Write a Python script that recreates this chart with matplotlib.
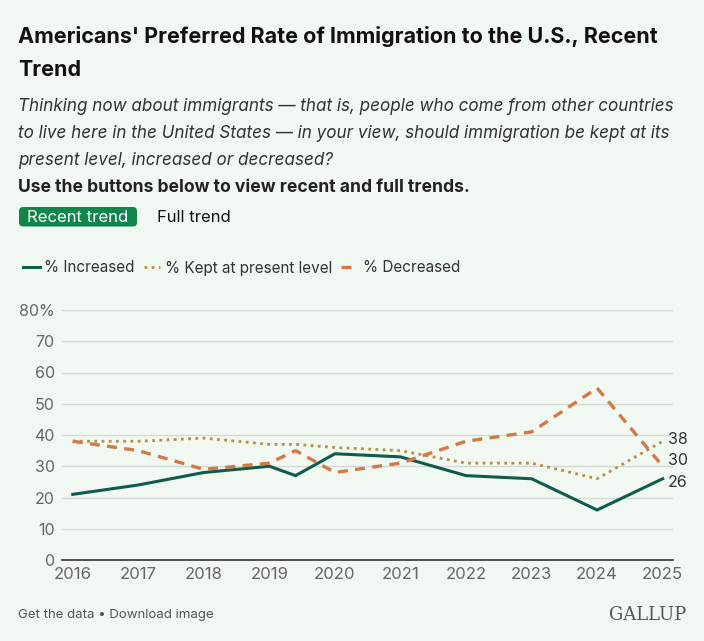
import matplotlib
matplotlib.use('Agg')
import matplotlib.pyplot as plt
from matplotlib.patches import FancyBboxPatch

# survey points (the extra one sits between the 2019 and 2020 polls)
years = [2016, 2017, 2018, 2019, 2019.4, 2020, 2021, 2022, 2023, 2024, 2025]
increased = [21, 24, 28, 30, 27, 34, 33, 27, 26, 16, 26]
kept = [38, 38, 39, 37, 37, 36, 35, 31, 31, 26, 38]
decreased = [38, 35, 29, 31, 35, 28, 31, 38, 41, 55, 30]

year_ticks = list(range(2016, 2026))
y_ticks = [0, 10, 20, 30, 40, 50, 60, 70, 80]
y_labels = ['0', '10', '20', '30', '40', '50', '60', '70', '80%']

BG = '#f1f7f1'
C_INC = '#0f5c4c'
C_KEPT = '#b3904b'
C_DEC = '#d07a45'
W, H = 704, 641

plt.rcParams['font.family'] = ['Inter', 'DejaVu Sans']


def px(x, y):
    """pixel coords (top-left origin) -> figure fraction"""
    return x / W, 1 - y / H


fig = plt.figure(figsize=(W / 100, H / 100), dpi=100, facecolor=BG)
ax = fig.add_axes([61.7 / W, 81 / H, (672.7 - 61.7) / W, 250 / H])
ax.set_facecolor(BG)

ax.plot(years, increased, color=C_INC, lw=2.2, solid_joinstyle='miter', label='% Increased')
ax.plot(years, kept, color=C_KEPT, lw=2, linestyle=(0, (1, 1.6)), label='% Kept at present level')
ax.plot(years, decreased, color=C_DEC, lw=2.4, linestyle=(0, (3, 2.2)), label='% Decreased')

ax.set_xlim(2016 - 0.168, 2025 + 0.153)
ax.set_ylim(0, 80)
ax.set_xticks(year_ticks)
ax.set_xticklabels([str(y) for y in year_ticks])
ax.set_yticks(y_ticks)
ax.set_yticklabels(y_labels)
ax.tick_params(axis='x', length=0, labelsize=12, labelcolor='#666666', pad=5)
ax.tick_params(axis='y', length=0, labelsize=11.5, labelcolor='#666666', pad=5)
ax.grid(axis='y', color='#d3dbd4', lw=1)
ax.set_axisbelow(True)
for s in ['top', 'right', 'left']:
    ax.spines[s].set_visible(False)
ax.spines['bottom'].set_color('#333333')
ax.spines['bottom'].set_linewidth(1.2)
ax.spines['bottom'].set_zorder(5)

# end labels, nudged apart
end_offsets = [(-2.5, increased[-1]), (1, kept[-1]), (4, decreased[-1])]
for dy, val in end_offsets:
    ax.annotate(str(val), xy=(years[-1], val), xytext=(4, dy), textcoords='offset points',
                ha='left', va='center', fontsize=11.5, color='#333333', annotation_clip=False)

# header
fig.text(*px(18, 43), "Americans' Preferred Rate of Immigration to the U.S., Recent",
         fontsize=15.5, fontweight='bold', color='#111111', va='baseline')
fig.text(*px(18, 76), "Trend", fontsize=15.5, fontweight='bold', color='#111111', va='baseline')
sub = ["Thinking now about immigrants \u2014 that is, people who come from other countries",
       "to live here in the United States \u2014 in your view, should immigration be kept at its",
       "present level, increased or decreased?"]
for i, line in enumerate(sub):
    fig.text(*px(18, 111 + i * 27), line, fontsize=12.3, style='italic', color='#333333',
             va='baseline')
fig.text(*px(18, 192), "Use the buttons below to view recent and full trends.",
         fontsize=12.6, fontweight='bold', color='#222222', va='baseline')

# buttons
bx, by = px(19, 226.5)
btn = FancyBboxPatch((bx, by), 118 / W, 19.5 / H, boxstyle='round,pad=0,rounding_size=0.006',
                     transform=fig.transFigure, facecolor='#11864c', edgecolor='none')
fig.add_artist(btn)
fig.text(*px(78, 222), "Recent trend", fontsize=12, color='white', ha='center', va='baseline')
fig.text(*px(157, 222), "Full trend", fontsize=12, color='#111111', va='baseline')

# legend
handles, labels = ax.get_legend_handles_labels()
fig.legend(handles, labels, loc='center left', bbox_to_anchor=px(9, 268), ncol=3,
           frameon=False, fontsize=11, handlelength=1.1, handletextpad=0.3,
           columnspacing=0.6, labelcolor='#333333')

# footer
fig.text(*px(18, 618), "Get the data \u2022 Download image", fontsize=9.5, color='#555555',
         va='baseline')
fig.text(*px(686, 620), "GALLUP", fontsize=13, family='DejaVu Serif', color='#555555',
         ha='right', va='baseline')

fig.savefig('out.png', dpi=100, facecolor=BG)
